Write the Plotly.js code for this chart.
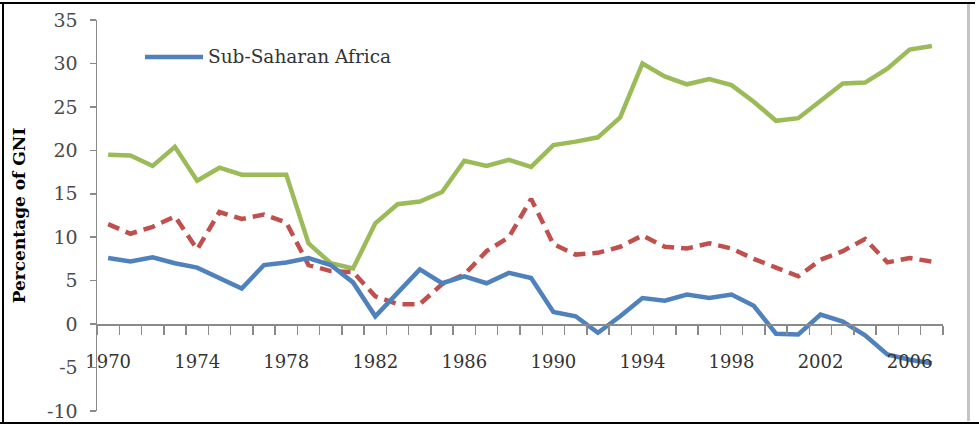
<!DOCTYPE html>
<html>
<head>
<meta charset="utf-8">
<script src="https://cdn.plot.ly/plotly-3.0.1.min.js"></script>
<style>
  html, body { margin: 0; padding: 0; background: #ffffff; }
  #wrap { position: relative; width: 979px; height: 426px; overflow: hidden; }
  #chart { width: 979px; height: 426px; }
  .frame { position: absolute; pointer-events: none; }
</style>
</head>
<body>
<div id="wrap">
  <div id="chart"></div>
  <div class="frame" style="left:0; top:2px; width:975px; height:2px; background:#000;"></div>
  <div class="frame" style="left:2px; top:2px; width:2px; height:422px; background:#000;"></div>
  <div class="frame" style="left:0; top:422px; width:979px; height:2px; background:#000;"></div>
  <div class="frame" style="left:967px; top:4px; width:3px; height:417px; background:#c4c4c4;"></div>
</div>
<script>
// ---- data ----
var years = [1970, 1971, 1972, 1973, 1974, 1975, 1976, 1977, 1978, 1979,
             1980, 1981, 1982, 1983, 1984, 1985, 1986, 1987, 1988, 1989,
             1990, 1991, 1992, 1993, 1994, 1995, 1996, 1997, 1998, 1999,
             2000, 2001, 2002, 2003, 2004, 2005, 2006, 2007];

var subSaharanAfrica = [7.6, 7.2, 7.7, 7.0, 6.5, 5.3, 4.1, 6.8, 7.1, 7.6,
                        6.8, 4.8, 0.9, 3.6, 6.3, 4.7, 5.5, 4.7, 5.9, 5.3,
                        1.4, 0.9, -1.0, 0.9, 3.0, 2.7, 3.4, 3.0, 3.4, 2.1,
                        -1.1, -1.2, 1.1, 0.3, -1.3, -3.5, -4.1, -4.5];

var seriesRed = [11.5, 10.4, 11.2, 12.4, 8.6, 12.9, 12.1, 12.6, 11.7, 6.8,
                 6.1, 6.0, 3.2, 2.3, 2.3, 4.6, 5.7, 8.4, 10.0, 14.4,
                 9.2, 8.0, 8.2, 8.9, 10.2, 8.9, 8.7, 9.3, 8.7, 7.5,
                 6.5, 5.5, 7.4, 8.4, 9.8, 7.1, 7.6, 7.2];

var seriesGreen = [19.5, 19.4, 18.2, 20.4, 16.5, 18.0, 17.2, 17.2, 17.2, 9.3,
                   7.0, 6.4, 11.6, 13.8, 14.1, 15.2, 18.8, 18.2, 18.9, 18.1,
                   20.6, 21.0, 21.5, 23.8, 30.0, 28.5, 27.6, 28.2, 27.5, 25.6,
                   23.4, 23.7, 25.7, 27.7, 27.8, 29.4, 31.6, 32.0];

var tickYears = [1970, 1974, 1978, 1982, 1986, 1990, 1994, 1998, 2002, 2006];
var yTicks = [-10, -5, 0, 5, 10, 15, 20, 25, 30, 35];
var legendLabel = 'Sub-Saharan Africa';
var yTitle = 'Percentage of GNI';

// ---- styling ----
var FONT = 'DejaVu Serif, Liberation Serif, serif';
var AXIS = '#8a8a8a';
var yMin = -10, yMax = 35;
var xMin = years[0] - 0.5, xMax = years[years.length - 1] + 0.5;
var boundaries = years.map(function (y) { return y - 0.5; }).concat([xMax]);

var traces = [
  { x: years, y: seriesGreen, type: 'scatter', mode: 'lines', name: 'Series 3',
    line: { color: '#9bbb59', width: 4.5 }, showlegend: false },
  { x: years, y: seriesRed, type: 'scatter', mode: 'lines', name: 'Series 2',
    line: { color: '#c0504d', width: 4.5, dash: '12px,7px' }, showlegend: false },
  { x: years, y: subSaharanAfrica, type: 'scatter', mode: 'lines', name: legendLabel,
    line: { color: '#4f81bd', width: 4.5 }, showlegend: false }
];

var layout = {
  width: 979, height: 426,
  margin: { l: 97, r: 36, t: 20, b: 15 },
  paper_bgcolor: '#ffffff', plot_bgcolor: '#ffffff',
  showlegend: false,
  xaxis: {
    type: 'linear', range: [xMin, xMax],
    anchor: 'free', position: (0 - yMin) / (yMax - yMin),
    showline: true, linecolor: AXIS, linewidth: 1.5,
    showgrid: false, zeroline: false,
    tickmode: 'array', tickvals: tickYears, ticktext: tickYears.map(String),
    ticks: 'outside', ticklen: 21, tickcolor: 'rgba(0,0,0,0)',
    tickfont: { family: FONT, size: 18, color: '#333333' },
    minor: { tickmode: 'array', tickvals: boundaries, ticks: 'outside', ticklen: 9,
             tickcolor: AXIS, tickwidth: 1.5, showgrid: false }
  },
  yaxis: {
    range: [yMin, yMax], tickmode: 'array', tickvals: yTicks, ticktext: yTicks.map(String),
    showline: true, linecolor: AXIS, linewidth: 1.5,
    showgrid: false, zeroline: false,
    ticks: 'outside', ticklen: 6, tickcolor: AXIS, tickwidth: 1.5,
    ticklabelstandoff: 8,
    tickfont: { family: FONT, size: 19, color: '#4a4a4a' },
    title: { text: '<b>' + yTitle + '</b>', standoff: 17,
             font: { family: FONT, size: 17, color: '#000000' } }
  },
  shapes: [
    { type: 'line', xref: 'paper', yref: 'paper',
      x0: (145 - 97) / 846, x1: (203 - 97) / 846,
      y0: (411 - 57) / 391, y1: (411 - 57) / 391,
      line: { color: '#4f81bd', width: 4.5 } }
  ],
  annotations: [
    { xref: 'paper', yref: 'paper', x: (206 - 97) / 846, y: (411 - 57) / 391,
      xanchor: 'left', yanchor: 'middle', showarrow: false,
      text: legendLabel, font: { family: FONT, size: 18.5, color: '#333333' } }
  ]
};

Plotly.newPlot('chart', traces, layout, { displayModeBar: false, staticPlot: true });
</script>
</body>
</html>
